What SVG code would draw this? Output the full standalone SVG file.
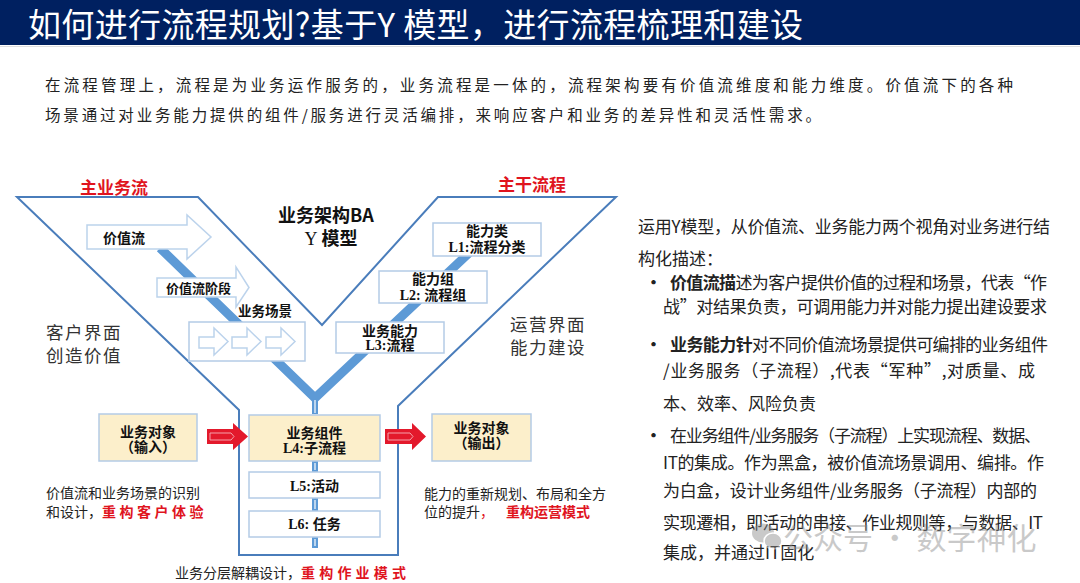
<svg xmlns="http://www.w3.org/2000/svg" width="1080" height="583" viewBox="0 0 1080 583">
<style>
.cjk{font-family:"Noto Sans CJK SC","Noto Sans",sans-serif}
.lbl{font-family:"Liberation Serif","Noto Sans CJK SC",serif;font-weight:700;font-size:14px;fill:#111}
.b{font-weight:700}
.red{fill:#e0141e}
.box{fill:#fff;stroke:#b4cbe6;stroke-width:1.5}
.beige{fill:#fcefcb;stroke:#b4cbe6;stroke-width:1.5}
.oarrow{fill:#fff;stroke:#bcd3ec;stroke-width:1.5}
.rarrow{fill:#e3192c}
.hl{fill:none;stroke:#f6a2ab;stroke-width:1}
.stem{fill:#5d9ad6}
.stemc{stroke:#fff;stroke-width:1.2}
.body{font-size:15.5px;fill:#222}
.col{font-size:17px;fill:#222}
.note{font-size:14px;fill:#222}
.side{font-size:17.5px;fill:#333;letter-spacing:1.5px}
</style>
<rect x="0" y="0" width="1080" height="583" fill="#fff"/>
<g id="title">
<rect x="0" y="0" width="1080" height="45" fill="#002060"/>
<line x1="0" y1="46.5" x2="1080" y2="46.5" stroke="#dedede" stroke-width="1"/>
<text x="28" y="36.5" class="cjk" font-size="33" fill="#fff" textLength="775">如何进行流程规划?基于Y 模型，进行流程梳理和建设</text>
</g>
<g id="intro" class="cjk">
<text x="45" y="90.5" class="body" textLength="968">在流程管理上，流程是为业务运作服务的，业务流程是一体的，流程架构要有价值流维度和能力维度。价值流下的各种</text>
<text x="45" y="120.5" class="body" textLength="776">场景通过对业务能力提供的组件/服务进行灵活编排，来响应客户和业务的差异性和灵活性需求。</text>
</g>
<g id="y-outline">
<path d="M17,197 L198,197 L322,325 L438,197 L616,197 L398,406 L398,555 L239,555 L239,410 Z" fill="none" stroke="#4a7dbb" stroke-width="2" stroke-linejoin="miter"/>
</g>
<g id="connectors">
<path d="M160,248 L315,398 L470,252" fill="none" stroke="#5d9ad6" stroke-width="9" stroke-linejoin="round"/>
<rect x="312" y="392" width="6" height="22" class="stem"/>
<line x1="315" y1="400" x2="315" y2="413" class="stemc"/>
<rect x="312" y="461" width="6" height="11" class="stem"/>
<line x1="315" y1="463" x2="315" y2="470" class="stemc"/>
<rect x="312" y="498" width="6" height="13" class="stem"/>
<line x1="315" y1="500" x2="315" y2="509" class="stemc"/>
<rect x="312" y="537" width="6" height="11" class="stem"/>
<line x1="315" y1="539" x2="315" y2="546" class="stemc"/>
<g id="arrow-in">
<polygon points="207,429 233,429 233,423 248,436.5 233,450 233,444 207,444" class="rarrow"/>
<polyline points="210,433 231,433 234,436.5 231,440 210,440 210,433" class="hl"/>
</g>
<g id="arrow-out">
<polygon points="385,429 412,429 412,423 426,436.5 412,450 412,444 385,444" class="rarrow"/>
<polyline points="388,433 410,433 413,436.5 410,440 388,440 388,433" class="hl"/>
</g>
</g>
<g id="heading-labels" class="cjk">
<text x="80" y="194" font-size="17" class="b red">主业务流</text>
<text x="498" y="191" font-size="17" class="b red">主干流程</text>
<text x="278" y="222" font-size="18" class="b" fill="#111">业务架构BA</text>
<text x="331" y="245" font-size="18" text-anchor="middle" fill="#111"><tspan font-family="Liberation Serif,serif">Y</tspan><tspan class="b"> 模型</tspan></text>
<text x="46" y="339" class="side">客户界面</text>
<text x="46" y="362" class="side">创造价值</text>
<text x="510" y="331" class="side">运营界面</text>
<text x="510" y="354" class="side">能力建设</text>
</g>
<g id="value-stream">
<polygon points="87,225 187,225 187,215 211,237 187,259 187,249 87,249" class="oarrow"/>
<text x="103" y="243" class="cjk b" font-size="14" fill="#111">价值流</text>
</g>
<g id="value-stream-stage">
<polygon points="157,278 236,278 236,267 249,287.5 236,307 236,297 157,297" class="oarrow"/>
<text x="166" y="293" class="cjk b" font-size="13" fill="#111">价值流阶段</text>
</g>
<g id="scenario">
<text x="238" y="316" class="cjk b" font-size="13.5" fill="#111">业务场景</text>
<rect x="189" y="322" width="116" height="39" class="box" stroke="#c3d7ee"/>
<polygon points="199,337 214,337 214,328 228,341.5 214,355 214,348 199,348" class="oarrow"/>
<polygon points="232,337 247,337 247,328 261,341.5 247,355 247,348 232,348" class="oarrow"/>
<polygon points="266,337 281,337 281,328 295,341.5 281,355 281,348 266,348" class="oarrow"/>
</g>
<g id="l1">
<rect x="433" y="223" width="108" height="33" class="box"/>
<text x="487" y="236" class="lbl" text-anchor="middle">能力类</text>
<text x="487" y="252" class="lbl" text-anchor="middle" font-size="13.5">L1:流程分类</text>
</g>
<g id="l2">
<rect x="379" y="271" width="108" height="32" class="box"/>
<text x="433" y="284" class="lbl" text-anchor="middle">能力组</text>
<text x="433" y="300" class="lbl" text-anchor="middle">L2: 流程组</text>
</g>
<g id="l3">
<rect x="336" y="322" width="108" height="31" class="box"/>
<text x="390" y="335.5" class="lbl" text-anchor="middle">业务能力</text>
<text x="390" y="350" class="lbl" text-anchor="middle">L3:流程</text>
</g>
<g id="input">
<rect x="99" y="414" width="98" height="47" class="beige"/>
<text x="148" y="437" class="lbl" text-anchor="middle">业务对象</text>
<text x="148" y="452" class="lbl" text-anchor="middle">（输入）</text>
</g>
<g id="l4">
<rect x="249" y="415" width="131" height="46" class="beige"/>
<text x="314.5" y="437.5" class="lbl" text-anchor="middle">业务组件</text>
<text x="314.5" y="452.5" class="lbl" text-anchor="middle">L4:子流程</text>
</g>
<g id="l5">
<rect x="249" y="472" width="131" height="26" class="box"/>
<text x="314.5" y="491" class="lbl" text-anchor="middle">L5:活动</text>
</g>
<g id="l6">
<rect x="249" y="511" width="131" height="26" class="box"/>
<text x="314.5" y="529" class="lbl" text-anchor="middle">L6: 任务</text>
</g>
<g id="output">
<rect x="432" y="414" width="99" height="47" class="beige"/>
<text x="481.5" y="433" class="lbl" text-anchor="middle">业务对象</text>
<text x="481.5" y="448" class="lbl" text-anchor="middle">（输出）</text>
</g>
<g id="notes" class="cjk">
<text x="46" y="498" class="note">价值流和业务场景的识别</text>
<text x="46" y="517" class="note">和设计，<tspan class="b red" letter-spacing="3.5">重构客户体验</tspan></text>
<text x="424" y="499" class="note">能力的重新规划、布局和全方</text>
<text x="424" y="517" class="note">位的提升<tspan class="red">，</tspan><tspan class="b red" dx="12">重构运营模式</tspan></text>
<text x="175" y="578" class="note">业务分层解耦设计，<tspan class="b red" letter-spacing="4.2">重构作业模式</tspan></text>
</g>
<g id="description" class="cjk">
<text x="638" y="232.5" class="col" textLength="412">运用Y模型，从价值流、业务能力两个视角对业务进行结</text>
<text x="638" y="264.5" class="col">构化描述：</text>
<text x="645" y="289" class="col b">·</text>
<text x="670" y="289" class="col" textLength="377"><tspan class="b">价值流描</tspan>述为客户提供价值的过程和场景，代表“作</text>
<text x="663" y="312.5" class="col" textLength="384">战”对结果负责，可调用能力并对能力提出建设要求</text>
<text x="645" y="350.5" class="col b">·</text>
<text x="670" y="350.5" class="col" textLength="378"><tspan class="b">业务能力针</tspan>对不同价值流场景提供可编排的业务组件</text>
<text x="663" y="376.5" class="col" textLength="372">/业务服务（子流程）,代表“军种”,对质量、成</text>
<text x="663" y="409.5" class="col">本、效率、风险负责</text>
<text x="645" y="441.5" class="col b">·</text>
<text x="670" y="441.5" class="col" textLength="371">在业务组件/业务服务（子流程）上实现流程、数据、</text>
<text x="663" y="468.5" class="col" textLength="381">IT的集成。作为黑盒，被价值流场景调用、编排。作</text>
<text x="663" y="496.5" class="col" textLength="374">为白盒，设计业务组件/业务服务（子流程）内部的</text>
<text x="663" y="528.5" class="col" textLength="380">实现遷相，即活动的串接、作业规则等，与数据、IT</text>
<text x="663" y="558.5" class="col">集成，并通过IT固化</text>
</g>
<g id="watermark" opacity="0.45">
<ellipse cx="763" cy="533" rx="11" ry="9.5" fill="#8a8a8a"/>
<ellipse cx="773" cy="541" rx="9" ry="8" fill="#8a8a8a" stroke="#fff" stroke-width="1.5"/>
<text x="783" y="549" class="cjk" font-size="30" fill="#8a8a8a">公众号 · 数字神化</text>
</g>
</svg>
